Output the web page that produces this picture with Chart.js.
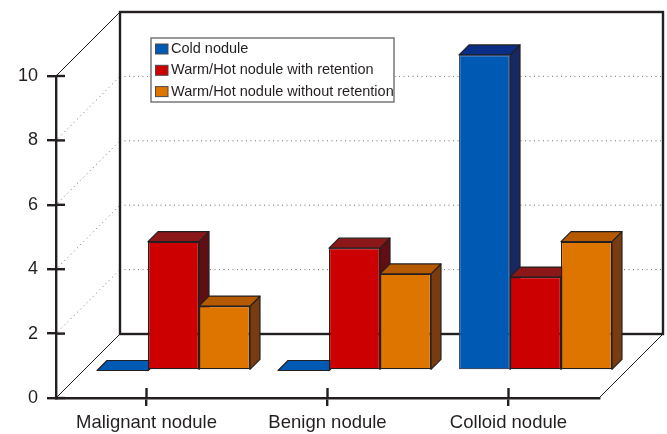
<!DOCTYPE html>
<html lang="en">
<head>
  <meta charset="UTF-8" />
  <title>Nodule types</title>
  <script src="https://cdn.jsdelivr.net/npm/chart.js"></script>
  <style>
    body { margin: 0; background: #fff; }
    canvas { display: block; }
  </style>
</head>
<body>
  <canvas id="barChart" width="667" height="434"></canvas>

  <script>
    // Data
    const categories = ['Malignant nodule', 'Benign nodule', 'Colloid nodule'];
    const coldNodule = [0, 0, 9.8];
    const warmWithRetention = [4, 3.8, 2.9];
    const warmWithoutRetention = [2, 3, 4];
    const gridValues = [2, 4, 6, 8];

    const ink = '#231f20';
    const font = '"Liberation Sans", Arial, sans-serif';
    const wallDepth = 64;   // back wall offset
    const barShiftX = 27;   // bars stand part way into the floor
    const barShiftY = 27.5;
    const barDepth = 10;

    // top and side shades for each series
    const faces = [
      { top: '#0a2d85', side: '#172862' },
      { top: '#8c1719', side: '#5f0f14' },
      { top: '#b65a00', side: '#783c10' }
    ];

    function line(ctx, x1, y1, x2, y2) {
      ctx.beginPath();
      ctx.moveTo(x1, y1);
      ctx.lineTo(x2, y2);
      ctx.stroke();
    }

    // Walls and floor behind the bars
    const walls = {
      id: 'walls',
      beforeDraw(chart) {
        const { ctx, chartArea: a, scales: { y } } = chart;
        const yTop = y.getPixelForValue(10), yZero = y.getPixelForValue(0);
        ctx.save();

        ctx.strokeStyle = '#6f6f6f';
        ctx.lineWidth = 1;
        ctx.setLineDash([1, 3.5]);
        gridValues.forEach(v => {
          const py = y.getPixelForValue(v);
          line(ctx, a.left + 2, py - 2, a.left + wallDepth, py - wallDepth);
          line(ctx, a.left + wallDepth, py - wallDepth, a.right + wallDepth, py - wallDepth);
        });
        ctx.setLineDash([]);

        ctx.strokeStyle = ink;
        ctx.lineWidth = 2.4;
        ctx.strokeRect(a.left + wallDepth, yTop - wallDepth, a.right - a.left, yZero - yTop);

        ctx.lineWidth = 1;
        line(ctx, a.left, yTop, a.left + wallDepth, yTop - wallDepth);
        line(ctx, a.left, yZero, a.left + wallDepth, yZero - wallDepth);
        line(ctx, a.right, yZero, a.right + wallDepth, yZero - wallDepth);
        ctx.restore();
      },
      afterDraw(chart) {
        // inner half of the axis ticks
        const { ctx, chartArea: a, scales: { x, y } } = chart;
        ctx.save();
        ctx.strokeStyle = ink;
        ctx.lineWidth = 2.4;
        y.ticks.forEach(t => {
          const py = y.getPixelForValue(t.value);
          line(ctx, a.left, py, a.left + 9, py);
        });
        categories.forEach((c, i) => {
          const px = x.getPixelForValue(i);
          line(ctx, px, a.bottom, px, a.bottom - 10);
        });
        ctx.restore();
      }
    };

    // Bars stand on the floor, top and side faces come from the bar elements
    const bars3d = {
      id: 'bars3d',
      beforeDatasetsDraw(chart) {
        const ctx = chart.ctx;
        ctx.save();
        ctx.translate(barShiftX, -barShiftY);
        ctx.strokeStyle = ink;
        ctx.lineWidth = 1.2;
        ctx.lineJoin = 'round';
        categories.forEach((c, i) => {
          chart.data.datasets.forEach((ds, d) => {
            const bar = chart.getDatasetMeta(d).data[i];
            const left = bar.x - bar.width / 2, right = bar.x + bar.width / 2;
            ctx.fillStyle = faces[d].side;
            ctx.beginPath();
            ctx.moveTo(right, bar.y);
            ctx.lineTo(right + barDepth, bar.y - barDepth);
            ctx.lineTo(right + barDepth, bar.base - barDepth);
            ctx.lineTo(right, bar.base);
            ctx.closePath();
            ctx.fill();
            ctx.stroke();
            ctx.fillStyle = ds.data[i] === 0 ? ds.backgroundColor : faces[d].top;
            ctx.beginPath();
            ctx.moveTo(left, bar.y);
            ctx.lineTo(left + barDepth, bar.y - barDepth);
            ctx.lineTo(right + barDepth, bar.y - barDepth);
            ctx.lineTo(right, bar.y);
            ctx.closePath();
            ctx.fill();
            ctx.stroke();
          });
        });
      },
      afterDatasetsDraw(chart) {
        chart.ctx.restore();
        drawLegend(chart);
      }
    };

    // Legend box sits on the back wall
    function drawLegend(chart) {
      const ctx = chart.ctx;
      ctx.save();
      ctx.fillStyle = '#fff';
      ctx.fillRect(151, 38, 243, 64);
      ctx.strokeStyle = '#77777a';
      ctx.lineWidth = 1.5;
      ctx.strokeRect(151, 38, 243, 64);
      ctx.font = '14.5px ' + font;
      ctx.textBaseline = 'middle';
      chart.data.datasets.forEach((ds, i) => {
        const rowY = 49 + i * 21.3;
        ctx.fillStyle = ds.backgroundColor;
        ctx.fillRect(155.5, rowY - 5, 12.5, 10);
        ctx.strokeStyle = '#4a4a4a';
        ctx.lineWidth = 1;
        ctx.strokeRect(155.5, rowY - 5, 12.5, 10);
        ctx.fillStyle = ink;
        ctx.fillText(ds.label, 171, rowY);
      });
      ctx.restore();
    }

    new Chart(document.getElementById('barChart'), {
      type: 'bar',
      data: {
        labels: categories,
        datasets: [
          { label: 'Cold nodule', data: coldNodule, backgroundColor: '#0059b2', borderColor: '#3d4a66' },
          { label: 'Warm/Hot nodule with retention', data: warmWithRetention, backgroundColor: '#cc0000', borderColor: ink },
          { label: 'Warm/Hot nodule without retention', data: warmWithoutRetention, backgroundColor: '#de7500', borderColor: ink }
        ]
      },
      options: {
        responsive: false,
        animation: false,
        layout: { padding: { top: 76, right: 68 } },
        datasets: { bar: { categoryPercentage: 0.845, barPercentage: 1, borderWidth: 1.2, borderSkipped: false, clip: false } },
        plugins: { legend: { display: false }, tooltip: { enabled: false } },
        scales: {
          x: {
            afterFit: s => { s.height = 36; },
            border: { color: ink, width: 2.4 },
            grid: { offset: false, drawOnChartArea: false, color: ink, lineWidth: 2.4, tickLength: 8 },
            ticks: { color: ink, padding: 6, maxRotation: 0, font: { family: font, size: 18.5 } }
          },
          y: {
            min: 0,
            max: 10,
            afterFit: s => { s.width = 56; },
            border: { color: ink, width: 2.4 },
            grid: { drawOnChartArea: false, color: ink, lineWidth: 2.4, tickLength: 9 },
            ticks: { color: ink, stepSize: 2, padding: 9, font: { family: font, size: 18 } }
          }
        }
      },
      plugins: [walls, bars3d]
    });
  </script>
</body>
</html>
